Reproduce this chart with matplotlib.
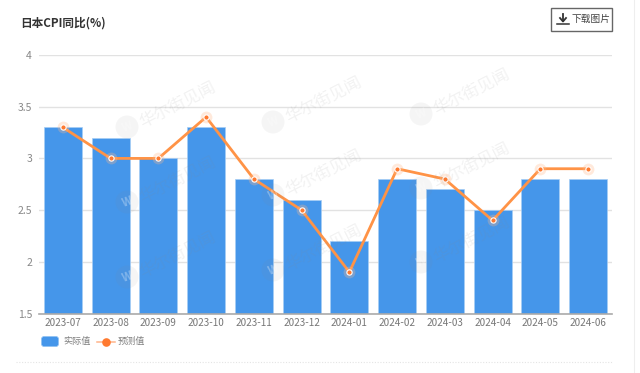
import matplotlib
matplotlib.use("Agg")
import matplotlib.pyplot as plt
from matplotlib.patches import FancyBboxPatch, Circle, Rectangle
from matplotlib.lines import Line2D

plt.rcParams['font.family'] = ['Noto Sans CJK SC', 'DejaVu Sans']

months = ['2023-07','2023-08','2023-09','2023-10','2023-11','2023-12',
          '2024-01','2024-02','2024-03','2024-04','2024-05','2024-06']
actual = [3.3,3.2,3.0,3.3,2.8,2.6,2.2,2.8,2.7,2.5,2.8,2.8]
forecast = [3.3,3.0,3.0,3.4,2.8,2.5,1.9,2.9,2.8,2.4,2.9,2.9]
yticks = [1.5,2,2.5,3,3.5,4]
ytick_labels = ['1.5','2','2.5','3','3.5','4']
title = '日本CPI同比(%)'
legend_labels = ['实际值','预测值']
button_label = '下载图片'
watermark = '华尔街见闻'
W, H = 640, 373
fig = plt.figure(figsize=(W/100, H/100), dpi=100)
ax = fig.add_axes([39/W, 1-313.5/H, (612-39)/W, (313.5-55)/H])
ax.set_xlim(-0.5, 11.5)
ax.set_ylim(1.5, 4)
for s in ['top','right','left']:
    ax.spines[s].set_visible(False)
ax.spines['bottom'].set_color('#aaaaaa')
ax.spines['bottom'].set_linewidth(1.2)
ax.set_yticks(yticks)
ax.set_yticklabels(ytick_labels, color='#888888', fontsize=7.5)
ax.set_xticks(range(len(months)))
ax.set_xticklabels(months, color='#777777', fontsize=7.2)
ax.tick_params(length=0)
ax.tick_params(axis='y', pad=5)
ax.tick_params(axis='x', pad=3.5)
ax.grid(axis='y', color='#e2e2e2', lw=1)
ax.set_axisbelow(True)
ax.bar(range(12), actual, width=0.8, color='#4596ea', edgecolor='#a6cdf5', lw=0.5, zorder=2)
ax.plot(range(12), forecast, color='#ff9346', lw=2.0, zorder=3)
ax.plot(range(12), forecast, ls='', marker='o', ms=8.5, color='#ffb98a', alpha=0.3, mew=0, zorder=3)
ax.plot(range(12), forecast, ls='', marker='o', ms=3.8, mfc='#ff7a30', mec='white', mew=0.8, zorder=4)

# watermarks
for (cx, cy) in [(127,127),(273,122),(421,114),(127,202),(273,195),(421,188),(127,277),(273,270),(421,262)]:
    fig.patches.append(Circle((cx, H-cy), 11.5, transform=None, fc='#888888', alpha=0.08, ec='none', zorder=5))
    fig.text((cx+14)/W, 1-(cy-3)/H, watermark, rotation=27, rotation_mode='anchor', ha='left', va='center',
             fontsize=12, color='#888888', alpha=0.11, zorder=5)
    fig.text(cx/W, 1-cy/H, 'W', ha='center', va='center', fontsize=8, color='white', alpha=0.3, zorder=6,
             fontweight='bold', rotation=20)

fig.text(20/W, 1-23/H, title, fontsize=8.4, fontweight='bold', color='#333333', ha='left', va='center')

# download button
fig.patches.append(Rectangle((550.5, H-30.5), 61, 23, transform=None, fc='white', ec='#666666', lw=1))
fig.text(571/W, 1-19/H, button_label, fontsize=7, color='#444444', ha='left', va='center')
bx = 563
fig.add_artist(Line2D([bx/W,bx/W],[1-13.5/H,1-21/H], color='#333333', lw=1.3))
fig.add_artist(Line2D([(bx-3)/W,bx/W,(bx+3)/W],[1-18/H,1-21.5/H,1-18/H], color='#333333', lw=1.3))
fig.add_artist(Line2D([(bx-6)/W,(bx+6)/W],[1-23.5/H,1-23.5/H], color='#333333', lw=1.1))

# legend
fig.patches.append(FancyBboxPatch((41.5, H-346.5), 17, 10, boxstyle='round,pad=0,rounding_size=2.5', transform=None, fc='#4596ea', ec='#8fc0f2', lw=0.5))
fig.text(63/W, 1-341.5/H, legend_labels[0], fontsize=6.6, color='#808080', ha='left', va='center')
fig.add_artist(Line2D([97/W,115/W],[1-341.5/H]*2, color='#ffb48a', lw=1.1))
fig.add_artist(Line2D([105.5/W],[1-341.5/H], marker='o', ms=6.2, color='#ff7a30', mew=0))
fig.text(118/W, 1-341.5/H, legend_labels[1], fontsize=6.6, color='#808080', ha='left', va='center')

# dotted separator and right edge
fig.add_artist(Line2D([16/W,612/W],[1-361.7/H]*2, color='#e4e4e4', lw=0.8, ls=(0,(1,1.5))))
fig.add_artist(Line2D([633.5/W,633.5/W],[0,1], color='#eeeeee', lw=0.8))
fig.savefig('out.png', dpi=100)
